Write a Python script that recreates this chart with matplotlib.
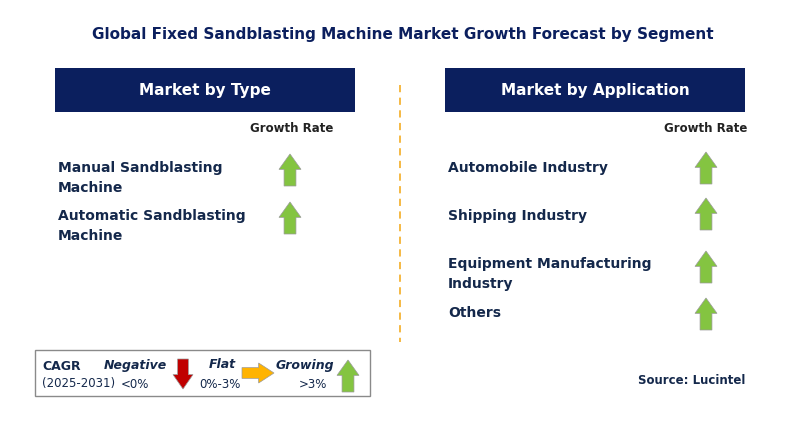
import matplotlib.pyplot as plt
from matplotlib.patches import Polygon, Rectangle

title = "Global Fixed Sandblasting Machine Market Growth Forecast by Segment"
type_labels = ["Manual Sandblasting\nMachine", "Automatic Sandblasting\nMachine"]
type_growth = ["up", "up"]
app_labels = ["Automobile Industry", "Shipping Industry",
              "Equipment Manufacturing\nIndustry", "Others"]
app_growth = ["up", "up", "up", "up"]

NAVY = "#0b1f5e"
TXT = "#14284b"
GREEN = "#84c441"
RED = "#c00000"
ORANGE = "#ffb300"

fig = plt.figure(figsize=(8.06, 4.23), dpi=100)
ax = fig.add_axes([0, 0, 1, 1])
ax.set_xlim(0, 806)
ax.set_ylim(423, 0)
ax.axis("off")


def arrow(cx, cy, w, h, color, direction="up"):
    hw = w / 2
    sw = w * 0.27
    hh = h * 0.48
    pts = [(0, -h / 2), (hw, -h / 2 + hh), (sw, -h / 2 + hh), (sw, h / 2),
           (-sw, h / 2), (-sw, -h / 2 + hh), (-hw, -h / 2 + hh)]
    if direction == "down":
        pts = [(x, -y) for x, y in pts]
    elif direction == "right":
        pts = [(-y, x) for x, y in pts]
    ax.add_patch(Polygon([(cx + x, cy + y) for x, y in pts], closed=True,
                         facecolor=color, edgecolor="#9a9a9a", lw=0.5))


ax.text(403, 35, title, ha="center", va="center", fontsize=11,
        fontweight="bold", color=NAVY)

for x0, head in [(55, "Market by Type"), (445, "Market by Application")]:
    ax.add_patch(Rectangle((x0, 68), 300, 44, facecolor=NAVY))
    ax.text(x0 + 150, 90, head, ha="center", va="center", fontsize=11,
            fontweight="bold", color="white")

ax.plot([400, 400], [85, 342], ls=(0, (4, 3)), color="#f5b335", lw=1.3)

ax.text(292, 129, "Growth Rate", ha="center", va="center", fontsize=8.5,
        fontweight="bold", color="#222222")
ax.text(706, 129, "Growth Rate", ha="center", va="center", fontsize=8.5,
        fontweight="bold", color="#222222")

type_y = [178, 226]
for lab, g, y in zip(type_labels, type_growth, type_y):
    ax.text(58, y, lab, ha="left", va="center", fontsize=10,
            fontweight="bold", color=TXT, linespacing=1.5)
    arrow(290, y - 10 + 2, 22, 32, GREEN, g)

app_y = [168, 216, 274, 313]
arrow_y = [168, 214, 267, 314]
for lab, g, y, ay in zip(app_labels, app_growth, app_y, arrow_y):
    ax.text(448, y, lab, ha="left", va="center", fontsize=10,
            fontweight="bold", color=TXT, linespacing=1.5)
    arrow(706, ay, 22, 32, GREEN, g)

# legend box
ax.add_patch(Rectangle((35, 350), 335, 46, facecolor="white",
                       edgecolor="#8a8a8a", lw=1))
ax.text(42, 366, "CAGR", fontsize=9, fontweight="bold", color=TXT, va="center")
ax.text(42, 384, "(2025-2031)", fontsize=8.5, color=TXT, va="center")
ax.text(135, 365, "Negative", fontsize=9, fontweight="bold", style="italic",
        color=TXT, ha="center", va="center")
ax.text(135, 384, "<0%", fontsize=8.5, color=TXT, ha="center", va="center")
arrow(183, 374, 20, 30, RED, "down")
ax.text(222, 365, "Flat", fontsize=9, fontweight="bold", style="italic",
        color=TXT, ha="center", va="center")
ax.text(220, 384, "0%-3%", fontsize=8.5, color=TXT, ha="center", va="center")
arrow(258, 373, 20, 32, ORANGE, "right")
ax.text(305, 365, "Growing", fontsize=9, fontweight="bold", style="italic",
        color=TXT, ha="center", va="center")
ax.text(313, 384, ">3%", fontsize=8.5, color=TXT, ha="center", va="center")
arrow(348, 376, 22, 32, GREEN, "up")

ax.text(745, 380, "Source: Lucintel", ha="right", va="center", fontsize=8.5,
        fontweight="bold", color=TXT)

fig.savefig("out.png", dpi=100)
